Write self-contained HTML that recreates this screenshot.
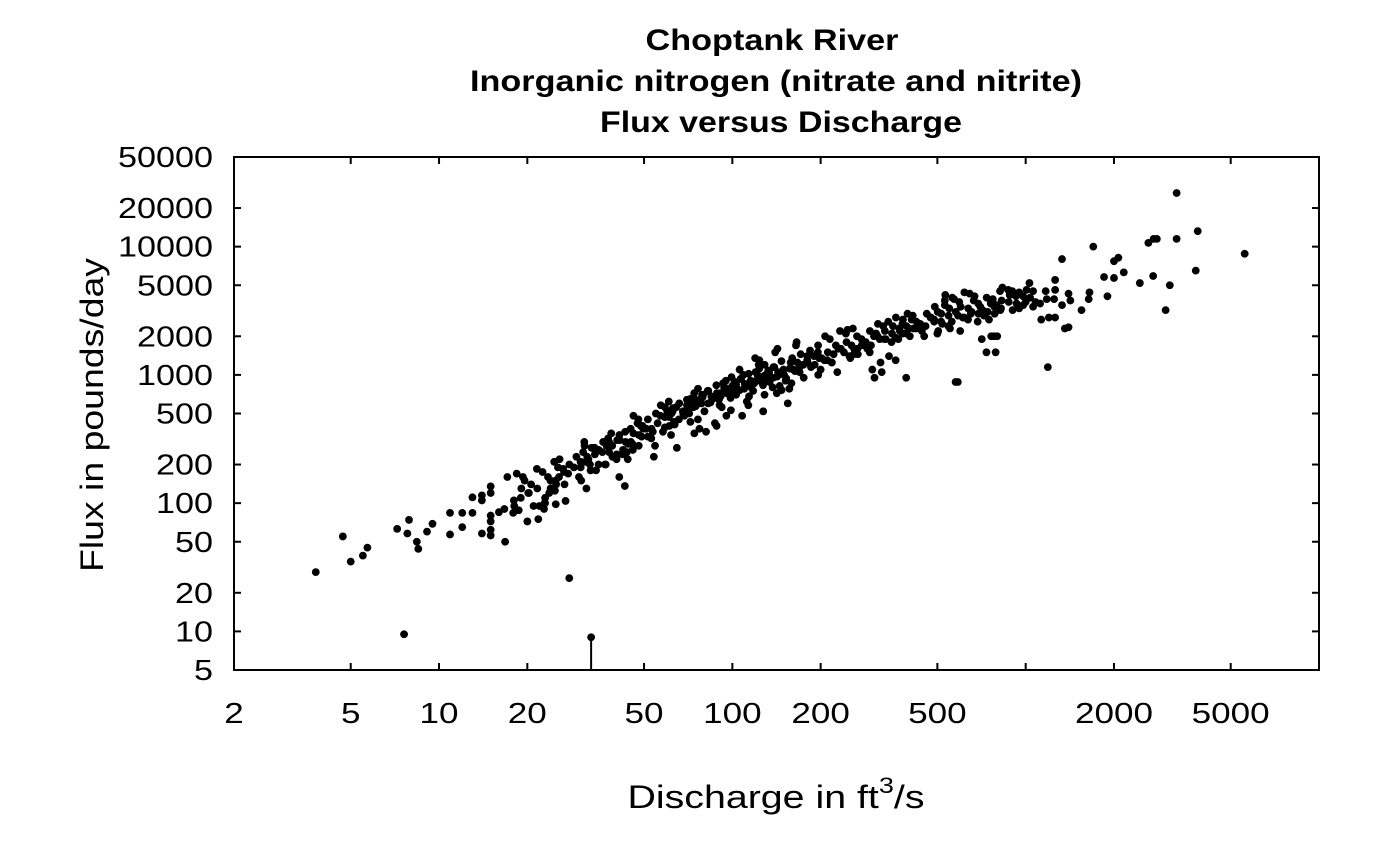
<!DOCTYPE html>
<html><head><meta charset="utf-8"><style>
body{margin:0;background:#fff}
svg{display:block;font-family:"Liberation Sans",Arial,sans-serif}
</style></head><body>
<svg id="chart" width="1400" height="866" xmlns="http://www.w3.org/2000/svg">
<rect width="1400" height="866" fill="#fff"/>
<g font-weight="bold" font-size="30" text-anchor="middle">
<text x="772" y="50" textLength="253" lengthAdjust="spacingAndGlyphs">Choptank River</text>
<text x="776" y="91" textLength="612" lengthAdjust="spacingAndGlyphs">Inorganic nitrogen (nitrate and nitrite)</text>
<text x="781" y="132" textLength="362" lengthAdjust="spacingAndGlyphs">Flux versus Discharge</text>
</g>
<g id="marks"></g>
<g id="axes"></g>
<text x="776" y="808" font-size="32" text-anchor="middle" textLength="297" lengthAdjust="spacingAndGlyphs">Discharge in ft<tspan dy="-15" font-size="22">3</tspan><tspan dy="15">/s</tspan></text>
<text transform="translate(103,415) rotate(-90)" font-size="32" text-anchor="middle" textLength="314" lengthAdjust="spacingAndGlyphs">Flux in pounds/day</text>
</svg>
<script>
const xTicks=[2,5,10,20,50,100,200,500,1000,2000,5000];
const xTickLabels=["2","5","10","20","50","100","200","500","","2000","5000"];
const yTicks=[5,10,20,50,100,200,500,1000,2000,5000,10000,20000,50000];
const yTickLabels=["5","10","20","50","100","200","500","1000","2000","5000","10000","20000","50000"];
const censoredQ=[33];
const censoredF=[9];
const discharge=[3.8,4.7,5.0,5.5,5.7,7.2,7.9,7.8,8.4,8.5,7.6,9.1,9.5,10.9,10.9,12,12,13,13,14,14,14,15,15,15,15,15,15,16.8,16,16.7,17.9,18.7,20,21,23,25,27,27.8,43,
3270,3860,3270,2620,2730,2800,5580,1700,1330,2000,2070,1850,2000,2160,2450,2720,3100,3800,3000,1190,587,1900,1650,1640,1550,1400,1420,1330,1360,1400,1130,1200,1260,1180,1250,1170,1260,1260,1080,1120,1060,820,780,790];
const flux=[29,55,35,39,45,63,74,58,50,44,9.5,60,69,84,57,84,65,84,111,115,105,58,80,72,62,56,135,120,50,85,90,84,88,72,95,100,98,104,26,136,
26200,13200,11500,10700,11500,11500,8800,10000,8000,7700,8200,5800,5700,6300,5200,5900,5000,6500,3200,1150,880,4100,4400,3900,3200,4300,3800,3500,2300,2350,2700,2800,2800,3900,3900,4500,5500,4600,3700,3600,3400,3200,2000,1500];
const groupQ=[18,19,20,21,22,23,24,25,26,27,28,29,30,31,32,33,34,35,36,37,38,39,40,41,42,44,45,46,48,50,52,54,56,58,60,62,64,66,68,70,72,75,78,80,83,86,90,93,96,100,104,108,112,116,120,125,130,135,140,145,150,160,170,180,190,200,215,230,245,260,280,300,320,340,360,380,400,430,460,500,530,560,600,650,700,750,800,850,900,950,1000];
const groupF=[[105,130,160],[120,95,150],[110,140,170,75],[130,160,100],[120,150,185,95],[140,175,110],[160,130,190,90],[150,185,120],[170,210,140],[160,200,125],[190,220,150],[175,210],[200,230,160,130],
[210,250,180],[230,270,190],[200,280,240],[220,260,300],[250,210,290,180],[270,230],[240,300,200],[280,250,220],[230,310],[260,300,340,200],[280,240,320],[300,350,260,160],[310,280,360,220],[330,290,380],
[300,350,400,250],[340,380,290],[380,420,330,480,280],[400,360,450],[420,380,470,320,230],[450,400,500],[430,480,360,520],[470,520,410,580,340],[500,450,560],[520,470,600,390],[550,500,620,430,270],[580,520,650],[560,610,480,640,350],
[600,540,650,450],[620,570,700,500,380],[650,600,720,520],[680,630,750,560,420],[700,650,780,580,360],[720,670,800,610],[750,700,830,640,480],[770,720,860,660,400],[800,740,880,680,530],[820,760,900,700,560,1000],[850,790,930,720,580],[880,820,960,750,1100,480],
[900,840,990,780,620],[930,870,1020,800,1200],[950,890,1050,830,680,1300],[980,920,1080,860,700],[1000,950,1120,880,1350,720,520],[1050,980,1150,900,760],[1080,1010,1200,940,800,1500],[1100,1040,1250,970,820],[1150,1070,1280,1000,860,1600,600],[1200,1120,1350,1050,900,1700],[1250,1160,1400,1100,950,780],[1300,1200,1450,1150,1800,1000],
[1350,1250,1500,1200,2000],[1400,1300,1550,1250,1700,1100],[1450,1350,1600,1300,1900,1050],[1500,1400,1700,1600,2100,1250],[1600,1500,1800,1450,2200,1350],[1700,1600,1900,2250,1450],[1800,1700,2000,1600,2300,950],[1900,1800,2100,1700,2400,1500,1100],[2000,1900,2200,1800,2500,1250],[2100,2000,2300,1900,2600,1300,1050],
[2200,2100,2400,1950,2700,1400],[2300,2200,2500,2000,2800,950],[2400,2300,2600,2100,2900,1900],[2500,2400,2700,2200,3000],[2600,2500,2800,2300,3100,2000],[2800,2600,3000,2400,3400,2100,3800],[2900,2700,3100,2500,3500,4000,2200],[3000,2800,3300,2600,3700,4200,880],[3100,2900,3400,2700,3900,4400,2300],[3300,3000,3600,2800,4100,2200,1900],
[3400,3100,3800,2900,4300,2000,2600],[3500,3200,3900,3000,4500,1500,2700],[3600,3300,4000,4600,3000,2000],[3700,3400,4100,4800],[3800,3500,4200,4500],[4000,3600,4400,4600,3200],[4100,3700,4500,3300,5200]];

const L=234,R=1319,T=157,B=670;
const xMin=2,xMax=10000,yMin=5,yMax=50000;
const xs=v=>L+(Math.log10(v)-Math.log10(xMin))/(Math.log10(xMax)-Math.log10(xMin))*(R-L);
const ys=v=>B-(Math.log10(v)-Math.log10(yMin))/(Math.log10(yMax)-Math.log10(yMin))*(B-T);
const NS="http://www.w3.org/2000/svg";
const marks=document.getElementById('marks'),axes=document.getElementById('axes');
function mk(tag,attrs,parent){const e=document.createElementNS(NS,tag);for(const k in attrs)e.setAttribute(k,attrs[k]);parent.appendChild(e);return e;}
function dot(q,f){const c=mk('circle',{cx:xs(q),cy:ys(f),r:3.9,fill:'#000'},marks);

}
for(let i=0;i<discharge.length;i++)dot(discharge[i],flux[i]);
const jitterSteps=[0,0.06,-0.05,0.03,-0.08,0.09,-0.02];
for(let g=0;g<groupQ.length;g++){const fs=groupF[g];for(let j=0;j<fs.length;j++){dot(groupQ[g]*(1+jitterSteps[(j+g)%7]),fs[j]);}}
for(let i=0;i<censoredQ.length;i++){dot(censoredQ[i],censoredF[i]);
const ln=mk('line',{x1:xs(censoredQ[i]),x2:xs(censoredQ[i]),y1:ys(censoredF[i]),y2:B,stroke:'#000','stroke-width':2},marks);

}
const box=mk('rect',{x:L,y:T,width:R-L,height:B-T,fill:'none',stroke:'#000','stroke-width':2},axes);


xTicks.forEach((v,i)=>{const x=xs(v);
if(i>0){mk('line',{x1:x,x2:x,y1:B,y2:B-7,stroke:'#000','stroke-width':2},axes);mk('line',{x1:x,x2:x,y1:T,y2:T+7,stroke:'#000','stroke-width':2},axes);}
if(xTickLabels[i]){const t=mk('text',{x:x,y:723,'font-size':29,'text-anchor':'middle',textLength:19.5*xTickLabels[i].length,lengthAdjust:'spacingAndGlyphs'},axes);t.textContent=xTickLabels[i];

}});
yTicks.forEach((v,i)=>{const y=ys(v);
if(i>0&&i<yTicks.length-1){mk('line',{x1:L,x2:L+7,y1:y,y2:y,stroke:'#000','stroke-width':2},axes);mk('line',{x1:R,x2:R-7,y1:y,y2:y,stroke:'#000','stroke-width':2},axes);}
const t=mk('text',{x:213,y:y+10,'font-size':29,'text-anchor':'end',textLength:19*yTickLabels[i].length,lengthAdjust:'spacingAndGlyphs'},axes);t.textContent=yTickLabels[i];

});
</script>
</body></html>
